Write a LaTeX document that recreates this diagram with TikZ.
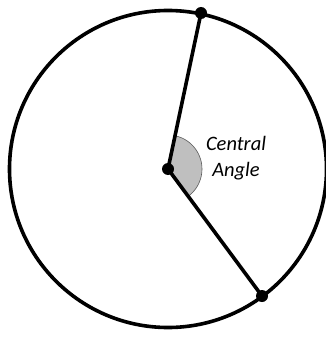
\documentclass[tikz,border=0pt]{standalone}
\usepackage{fontspec}
\setmainfont{Carlito}
\usetikzlibrary{calc}

\begin{document}
\begin{tikzpicture}[
    x=1pt, y=-1pt,
    rim/.style={draw=black, line width=3.6pt},
    spoke/.style={draw=black, line width=3.6pt},
    dot/.style={circle, fill=black, inner sep=0pt, minimum size=12pt},
    wedge/.style={fill=gray!50, draw=gray!70!black, line width=0.6pt},
    tag/.style={font=\itshape\fontsize{20.5}{26}\selectfont, align=center, inner sep=0pt}
]
    \useasboundingbox (0,0) rectangle (326,337);

    % Circle
    \coordinate (O) at (168,169);
    \draw[rim] (O) circle[radius=158.5];

    % Central angle sector
    \fill[wedge] (O) -- ++(-78:34) arc[start angle=-78, end angle=53.5, radius=34] -- cycle;

    % Radii and points
    \node[dot] (a) at (201,13) {};
    \node[dot] (b) at (262,296) {};
    \node[dot] (o) at (O) {};
    \draw[spoke] (o.center) -- (a.center);
    \draw[spoke] (o.center) -- (b.center);

    % Label
    \node[tag] (lbl) at (236,158) {Central\\Angle};

\end{tikzpicture}
\end{document}
